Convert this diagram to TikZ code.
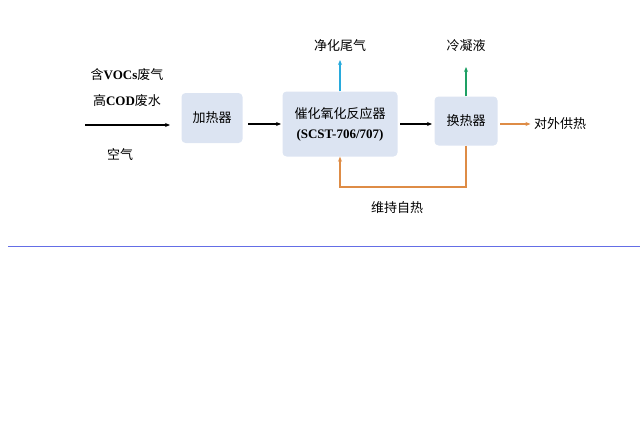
\documentclass[tikz,border=0pt]{standalone}
\usepackage{fontspec}
\setmainfont{Liberation Serif}
\newfontfamily\cjk{Noto Sans CJK SC}
\newcommand{\lat}[1]{{\rmfamily\bfseries #1}}
\usetikzlibrary{arrows.meta}
\definecolor{boxfill}{RGB}{220,228,242}
\definecolor{heatorange}{RGB}{222,140,70}
\definecolor{gascyan}{RGB}{40,170,220}
\definecolor{liqgreen}{RGB}{30,160,100}
\definecolor{rulerblue}{RGB}{100,110,230}
\tikzset{
    unit/.style={rectangle, rounded corners=4pt, fill=boxfill, align=center, font=\cjk\fontsize{13}{20}\selectfont},
    label/.style={font=\cjk\fontsize{13}{15}\selectfont},
    flow/.style={-{Stealth[length=5pt,width=4pt]}, line width=1.1pt}
}
\begin{document}
\begin{tikzpicture}[x=1pt,y=-1pt]
    \useasboundingbox (0,0) rectangle (640,444);

    \node[unit, minimum width=61pt, minimum height=50pt] (heater) at (212,118) {加热器};
    \node[unit, minimum width=115pt, minimum height=65pt] (reactor) at (340,124) {催化氧化反应器\\\lat{(SCST-706/707)}};
    \node[unit, minimum width=63pt, minimum height=49pt] (exch) at (466,121) {换热器};

    \node[label] (voc) at (127,75) {含\lat{VOCs}废气};
    \node[label] (cod) at (127,101) {高\lat{COD}废水};
    \node[label] (air) at (120,155) {空气};
    \node[label] (clean) at (340,46) {净化尾气};
    \node[label] (cond) at (466,46) {冷凝液};
    \node[label] (supply) at (560,124) {对外供热};
    \node[label] (self) at (397,208) {维持自热};

    \coordinate (in) at (85,125);
    \coordinate (inend) at (170,125);
    \coordinate (mida) at (248,124);
    \coordinate (midb) at (281,124);
    \coordinate (midc) at (400,124);
    \coordinate (midd) at (432,124);
    \coordinate (oute) at (500,124);
    \coordinate (cleanend) at (340,60);
    \coordinate (condend) at (466,67);
    \coordinate (loop) at (466,187);

    \draw[flow] (in) -- (inend);
    \draw[flow] (mida) -- (midb);
    \draw[flow] (midc) -- (midd);
    \draw[flow, heatorange] (oute) -- (supply.west);
    \draw[flow, gascyan] (reactor.north) -- (cleanend);
    \draw[flow, liqgreen] (exch.north) -- (condend);
    \draw[flow, heatorange] (exch.south) -- (loop) -| (reactor.south);

    \draw[rulerblue, line width=0.8pt] (8,246) -- (640,246);
\end{tikzpicture}
\end{document}
